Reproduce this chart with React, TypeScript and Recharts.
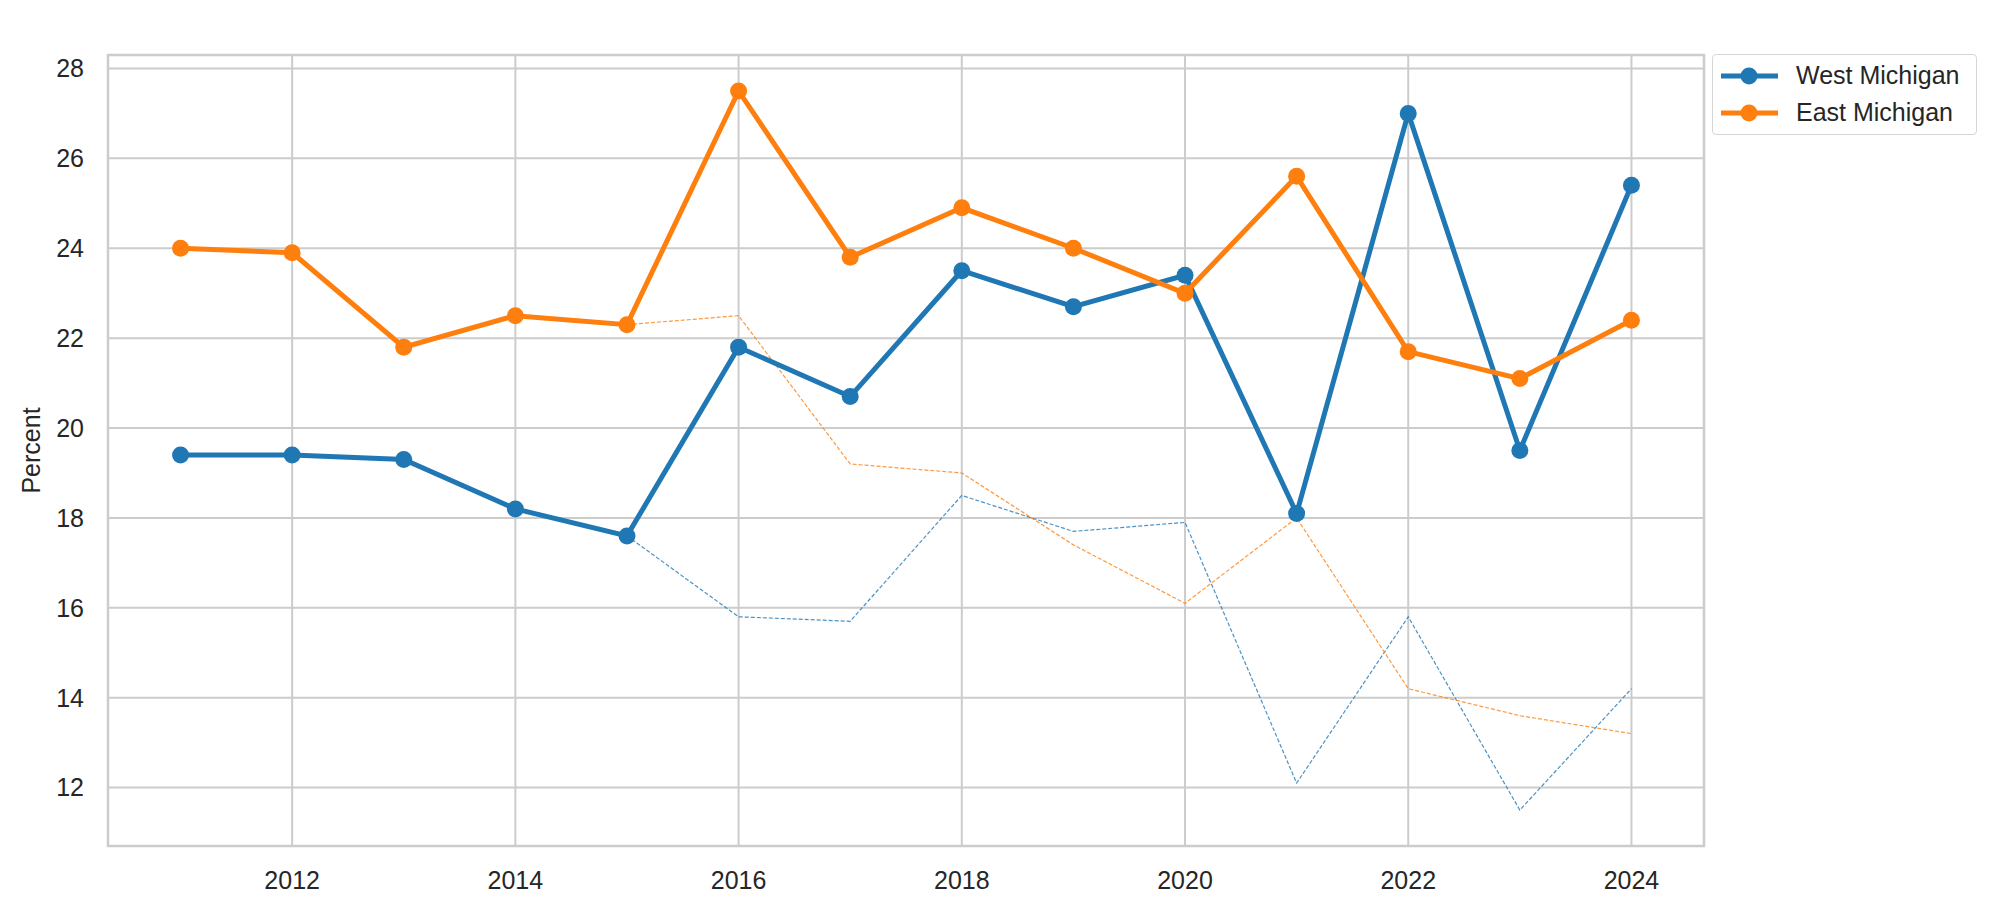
import React from "react";
import {
  LineChart,
  Line,
  XAxis,
  YAxis,
  CartesianGrid,
  Legend,
  ReferenceArea,
  Label,
} from "recharts";

const years = [2011, 2012, 2013, 2014, 2015, 2016, 2017, 2018, 2019, 2020, 2021, 2022, 2023, 2024];
const westMichigan = [19.4, 19.4, 19.3, 18.2, 17.6, 21.8, 20.7, 23.5, 22.7, 23.4, 18.1, 27.0, 19.5, 25.4];
const eastMichigan = [24.0, 23.9, 21.8, 22.5, 22.3, 27.5, 23.8, 24.9, 24.0, 23.0, 25.6, 21.7, 21.1, 22.4];
// thin dashed lines, starting in 2015
const westDashed = [null, null, null, null, 17.6, 15.8, 15.7, 18.5, 17.7, 17.9, 12.1, 15.8, 11.5, 14.2];
const eastDashed = [null, null, null, null, 22.3, 22.5, 19.2, 19.0, 17.4, 16.1, 18.0, 14.2, 13.6, 13.2];

const xTicks = [2012, 2014, 2016, 2018, 2020, 2022, 2024];
const yTicks = [12, 14, 16, 18, 20, 22, 24, 26, 28];

const BLUE = "#1f77b4";
const ORANGE = "#ff7f0e";
const GRID = "#cccccc";
const TEXT = "#262626";
const FONT = "'Liberation Sans', Arial, Helvetica, sans-serif";

const data = years.map((year, i) => ({
  year,
  west: westMichigan[i],
  east: eastMichigan[i],
  westDashed: westDashed[i],
  eastDashed: eastDashed[i],
}));

const legendItems = [
  { name: "West Michigan", color: BLUE },
  { name: "East Michigan", color: ORANGE },
];

const LegendBox = () => (
  <div
    style={{
      width: 265,
      height: 81,
      border: "1.5px solid #d6d6d6",
      borderRadius: 4,
      background: "rgba(255,255,255,0.8)",
      boxSizing: "border-box",
      fontFamily: FONT,
      fontSize: 25,
      color: TEXT,
      paddingTop: 2,
    }}
  >
    {legendItems.map((item) => (
      <div key={item.name} style={{ display: "flex", alignItems: "center", height: 37 }}>
        <svg width={83} height={20} style={{ flex: "none" }}>
          <line x1={8} y1={10} x2={65} y2={10} stroke={item.color} strokeWidth={5} />
          <circle cx={36} cy={10} r={8.5} fill={item.color} />
        </svg>
        <span style={{ lineHeight: 1 }}>{item.name}</span>
      </div>
    ))}
  </div>
);

const App = () => {
  return (
    <div style={{ position: "absolute", left: 0, top: 0, background: "#fff" }}>
      <LineChart
        width={2000}
        height={911}
        data={data}
        margin={{ top: 55, right: 296, left: 0, bottom: 0 }}
      >
        <CartesianGrid stroke={GRID} strokeWidth={2} />
        <XAxis
          dataKey="year"
          type="number"
          domain={[2010.35, 2024.65]}
          ticks={xTicks}
          allowDataOverflow
          height={65}
          axisLine={false}
          tickLine={false}
          tickSize={0}
          tickMargin={25}
          tick={{ fill: TEXT, fontSize: 25, fontFamily: FONT }}
        />
        <YAxis
          type="number"
          domain={[10.7, 28.3]}
          ticks={yTicks}
          allowDataOverflow
          width={108}
          axisLine={false}
          tickLine={false}
          tickSize={0}
          tickMargin={24}
          tick={{ fill: TEXT, fontSize: 25, fontFamily: FONT }}
        >
          <Label
            content={({ viewBox }: any) => {
              const cx = viewBox.x + 31;
              const cy = viewBox.y + viewBox.height / 2;
              return (
                <text
                  x={cx}
                  y={cy}
                  transform={`rotate(-90, ${cx}, ${cy})`}
                  textAnchor="middle"
                  dominantBaseline="central"
                  fill={TEXT}
                  fontSize={25}
                  fontFamily={FONT}
                >
                  Percent
                </text>
              );
            }}
          />
        </YAxis>
        <ReferenceArea
          x1={2010.35}
          x2={2024.65}
          y1={10.7}
          y2={28.3}
          fill="none"
          stroke={GRID}
          strokeWidth={2.5}
          strokeOpacity={1}
        />
        <Line
          dataKey="westDashed"
          stroke={BLUE}
          strokeWidth={1.2}
          strokeDasharray="4 2"
          strokeOpacity={0.8}
          dot={false}
          activeDot={false}
          isAnimationActive={false}
          legendType="none"
        />
        <Line
          dataKey="eastDashed"
          stroke={ORANGE}
          strokeWidth={1.2}
          strokeDasharray="4 2"
          strokeOpacity={0.8}
          dot={false}
          activeDot={false}
          isAnimationActive={false}
          legendType="none"
        />
        <Line
          dataKey="west"
          name="West Michigan"
          stroke={BLUE}
          strokeWidth={5}
          dot={{ r: 8.5, fill: BLUE, stroke: BLUE, strokeWidth: 0 }}
          activeDot={false}
          isAnimationActive={false}
        />
        <Line
          dataKey="east"
          name="East Michigan"
          stroke={ORANGE}
          strokeWidth={5}
          dot={{ r: 8.5, fill: ORANGE, stroke: ORANGE, strokeWidth: 0 }}
          activeDot={false}
          isAnimationActive={false}
        />
        <Legend
          layout="vertical"
          align="center"
          verticalAlign="middle"
          content={() => <LegendBox />}
          wrapperStyle={{ left: 1712, top: 54, width: 265, height: 81 }}
        />
      </LineChart>
    </div>
  );
};

export default App;
